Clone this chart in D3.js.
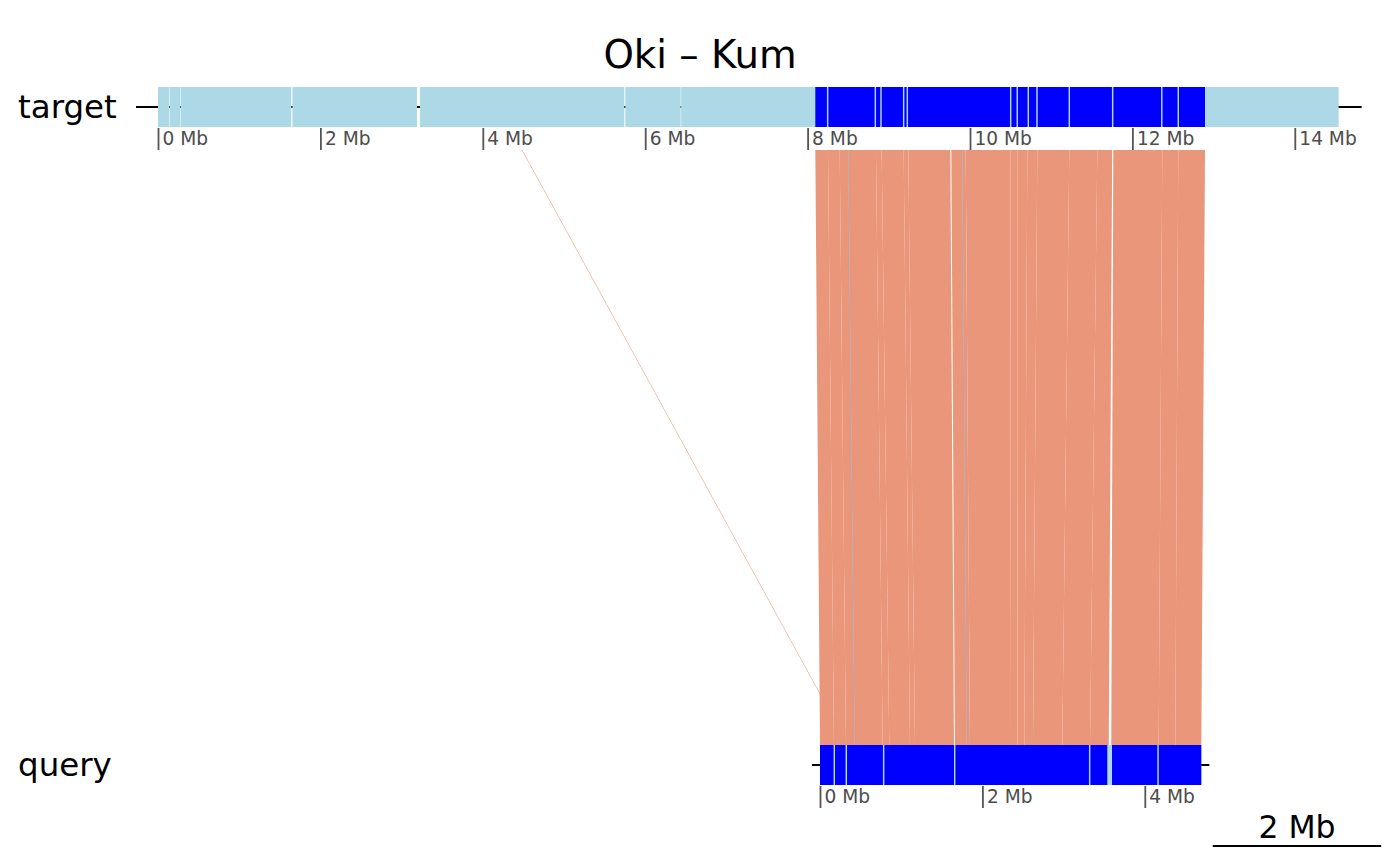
<!DOCTYPE html>
<html><head><meta charset="utf-8">
<script src="https://cdn.jsdelivr.net/npm/d3@7"></script>
<style>body{margin:0;background:#fff}svg{display:block}text{font-family:"DejaVu Sans",sans-serif}</style>
</head><body><svg id="c" width="1400" height="865"></svg>
<script>
// ---------- data (Mb) ----------
const title = "Oki \u2013 Kum";
const seqNames = ["target", "query"];
const seqLengths = [14.54, 4.696];
const targetContigs = [[0,0.137],[0.143,0.277],[0.283,1.642],[1.656,3.19],[3.225,5.743],[5.755,6.437],[6.443,14.54]];
const queryContigs = [[0,4.696]];
const targetGenes = [[8.095,8.238],[8.256,8.825],[8.843,8.895],[8.913,9.174],[9.192,9.219],[9.237,10.492],
  [10.510,10.573],[10.591,10.709],[10.727,10.816],[10.834,11.214],[11.232,11.748],[11.766,12.353],[12.371,12.556],[12.574,12.894]];
const queryGenes = [[0,0.167],[0.185,0.315],[0.333,0.775],[0.793,1.650],[1.668,3.312],[3.330,3.538],[3.596,4.154],[4.172,4.696]];
const linkTargetStart = [8.095,8.251,8.395,8.501,8.842,8.912,9.183,9.240,9.770,9.905,9.947,10.501,10.582,10.706,10.829,11.223,11.568,11.765,12.368,12.565, 4.480];
const linkTargetEnd   = [8.251,8.395,8.501,8.842,8.912,9.183,9.240,9.757,9.905,9.947,10.501,10.582,10.706,10.829,11.223,11.568,11.751,12.368,12.565,12.894, 4.487];
const linkQueryStart  = [0,0.172,0.320,0.427,0.772,0.853,1.108,1.170,1.662,1.807,1.847,2.340,2.430,2.516,2.623,2.984,3.325,3.587,4.171,4.376, 0.341];
const linkQueryEnd    = [0.172,0.320,0.427,0.772,0.853,1.108,1.170,1.650,1.807,1.847,2.340,2.430,2.516,2.623,2.984,3.325,3.556,4.171,4.376,4.696, 0.348];
const minorTargetPos = [8.501, 9.905];
const minorQueryPos  = [0.427, 1.807];
const targetTicks = [0,2,4,6,8,10,12,14];
const queryTicks = [0,2,4];
const scaleBarLabel = "2 Mb";
const scaleBarMb = 2;

// ---------- layout ----------
const pxPerMb = 81.2;
const svg = d3.select("#c");
const xT = d3.scaleLinear().domain([0, seqLengths[0]]).range([158, 158 + seqLengths[0]*pxPerMb]);
const xQ = d3.scaleLinear().domain([0, seqLengths[1]]).range([820, 820 + seqLengths[1]*pxPerMb]);
const rows = [
  {name: seqNames[0], x: xT, y: 107, contigs: targetContigs, genes: targetGenes, ticks: targetTicks, lineExt: [22, 23], labelY: 118},
  {name: seqNames[1], x: xQ, y: 765, contigs: queryContigs, genes: queryGenes, ticks: queryTicks, lineExt: [8, 8], labelY: 776}
];
const barH = 40;
const linkTop = 150, linkBot = 745;

// title
svg.append("text").attr("x", 700).attr("y", 68).attr("text-anchor", "middle")
  .attr("font-size", 38.7).attr("fill", "#000").text(title);

// links
const links = linkTargetStart.map((d, i) => ({ts: d, te: linkTargetEnd[i], qs: linkQueryStart[i], qe: linkQueryEnd[i]}));
const thin = links[links.length - 1];
svg.append("path")
  .attr("d", `M${xT(thin.ts)},${linkTop}L${xT(thin.te)},${linkTop}L${xQ(thin.qe)},${linkBot}L${xQ(thin.qs)},${linkBot}Z`)
  .attr("fill", "#E9967A");
svg.append("g").selectAll("path").data(links.slice(0, -1)).join("path")
  .attr("d", d => `M${xT(d.ts)},${linkTop}L${xT(d.te)},${linkTop}L${xQ(d.qe)},${linkBot}L${xQ(d.qs)},${linkBot}Z`)
  .attr("fill", "#E9967A");
svg.append("g").selectAll("line").data(minorTargetPos).join("line")
  .attr("x1", d => xT(d)).attr("y1", linkTop)
  .attr("x2", (d, i) => xQ(minorQueryPos[i])).attr("y2", linkBot)
  .attr("stroke", "#aaa6c8").attr("stroke-width", 1).attr("stroke-opacity", 0.7);

rows.forEach(r => {
  const g = svg.append("g");
  const [d0, d1] = r.x.domain();
  g.append("line").attr("x1", r.x(d0) - r.lineExt[0]).attr("x2", r.x(d1) + r.lineExt[1])
    .attr("y1", r.y).attr("y2", r.y).attr("stroke", "#000").attr("stroke-width", 1.8);
  g.append("g").selectAll("rect").data(r.contigs).join("rect")
    .attr("x", d => r.x(d[0])).attr("width", d => r.x(d[1]) - r.x(d[0]))
    .attr("y", r.y - barH/2).attr("height", barH).attr("fill", "#ADD8E6");
  g.append("g").selectAll("rect").data(r.genes).join("rect")
    .attr("x", d => r.x(d[0])).attr("width", d => r.x(d[1]) - r.x(d[0]))
    .attr("y", r.y - barH/2).attr("height", barH).attr("fill", "#0000FF");
  const ax = g.append("g").attr("transform", `translate(0,${r.y + barH/2 + 1})`)
    .call(d3.axisBottom(r.x).tickValues(r.ticks).tickFormat(d => d + " Mb").tickSize(22));
  ax.select(".domain").remove();
  ax.selectAll(".tick line").attr("stroke", "#555").attr("stroke-width", 1.8);
  ax.selectAll(".tick text").attr("text-anchor", "start").attr("x", 4).attr("y", 4).attr("dy", "0.71em")
    .attr("fill", "#4d4d4d").attr("font-size", 18.6).attr("font-family", "DejaVu Sans");
  svg.append("text").attr("x", 18).attr("y", r.labelY).attr("font-size", 32.5).attr("fill", "#000").text(r.name);
});

// scale bar
const sbLen = scaleBarMb * pxPerMb;
const sbCx = 1297;
svg.append("line").attr("x1", sbCx - sbLen/2 - 3).attr("x2", sbCx + sbLen/2 + 3).attr("y1", 846).attr("y2", 846)
  .attr("stroke", "#000").attr("stroke-width", 1.8);
svg.append("text").attr("x", sbCx).attr("y", 838).attr("text-anchor", "middle").attr("font-size", 31.5).text(scaleBarLabel);
</script></body></html>
